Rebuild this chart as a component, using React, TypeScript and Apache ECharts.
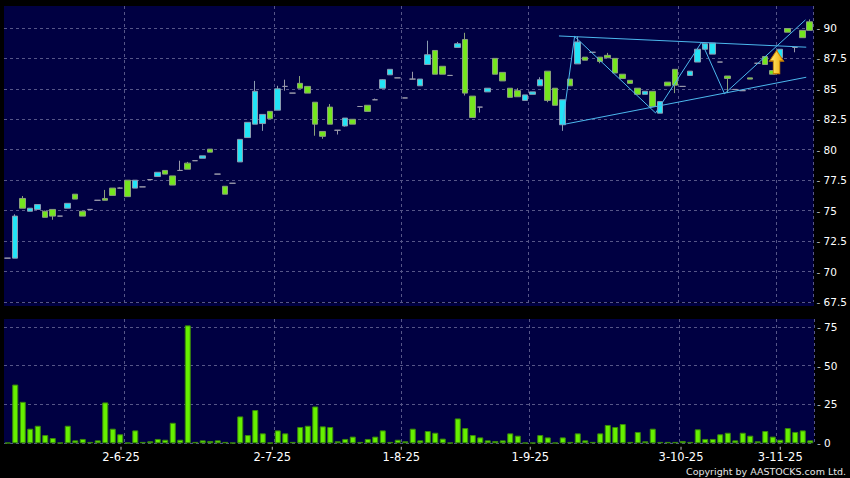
import React, { useEffect, useRef } from 'react';
import * as echarts from 'echarts';

// ---- Price data (one entry per trading day) ----
const opens = [
  71.1, 71.1, 76.0, 74.95, 75.1, 74.95, 75.1, 74.55, 75.2, 76.35,
  74.95, 75.1, 75.85, 76.0, 76.85, 76.85, 77.5, 76.85, 76.95, 77.55,
  77.8, 78.3, 77.85, 78.3, 78.9, 79.1, 79.3, 80.05, 78.0, 77.0,
  77.25, 79.0, 81.0, 82.1, 82.15, 83.15, 83.25, 85.2, 84.65, 85.45,
  85.2, 83.9, 81.5, 83.5, 81.6, 81.95, 82.5, 83.55, 83.65, 84.1,
  85.05, 86.15, 85.9, 84.25, 85.8, 85.25, 87.0, 88.15, 86.85, 86.1,
  88.4, 89.05, 84.4, 83.5, 84.75, 87.5, 86.35, 85.05, 84.85, 84.05,
  84.55, 85.25, 86.45, 85.05, 82.05, 85.8, 87.05, 87.6, 88.0, 87.6,
  87.75, 87.5, 86.2, 85.7, 85.05, 84.55, 84.8, 83.0, 85.55, 86.6,
  85.2, 86.1, 87.2, 88.25, 87.85, 87.2, 86.05, 84.95, 84.85, 85.9,
  87.1, 87.65, 86.5, 87.55, 89.95, 88.4, 89.8, 90.5,
];
const closes = [
  71.1, 74.55, 75.2, 75.2, 75.5, 74.45, 74.55, 74.55, 75.6, 75.95,
  74.55, 75.1, 75.85, 75.85, 76.25, 76.85, 76.15, 77.5, 76.95, 77.55,
  78.15, 78.0, 77.1, 78.3, 78.4, 79.1, 79.5, 79.8, 78.0, 76.35,
  77.25, 80.85, 82.25, 84.8, 82.9, 82.55, 85.0, 85.2, 84.65, 85.05,
  84.65, 82.1, 81.1, 82.1, 81.6, 82.6, 82.1, 83.55, 83.15, 84.1,
  85.75, 86.6, 85.9, 84.25, 85.8, 85.8, 87.8, 86.2, 86.2, 86.1,
  88.7, 84.65, 82.65, 83.5, 85.05, 86.2, 85.65, 84.3, 84.35, 84.5,
  84.75, 85.75, 84.05, 83.65, 84.1, 85.25, 88.85, 87.35, 88.0, 87.25,
  87.55, 86.3, 85.85, 85.45, 84.55, 84.8, 83.55, 83.95, 85.25, 85.3,
  85.2, 86.45, 88.25, 88.7, 88.75, 87.2, 85.85, 84.95, 84.85, 85.8,
  87.1, 87.0, 86.2, 88.25, 89.65, 88.4, 89.2, 89.8,
];
const lows = [
  71.1, 71.1, 75.2, 74.95, 75.1, 74.45, 74.25, 74.55, 75.2, 75.95,
  74.55, 75.1, 75.85, 75.85, 76.25, 76.85, 76.15, 76.85, 76.95, 77.55,
  77.8, 78.0, 77.1, 78.3, 78.4, 79.1, 79.3, 79.8, 78.0, 76.35,
  77.25, 79.0, 81.0, 82.1, 81.55, 82.55, 83.25, 84.85, 84.65, 85.05,
  84.65, 81.15, 80.9, 82.1, 81.25, 81.9, 82.1, 83.55, 83.15, 84.1,
  85.05, 86.15, 85.9, 84.25, 85.8, 85.25, 87.0, 86.2, 86.2, 86.1,
  88.4, 84.45, 82.65, 83.05, 84.75, 86.2, 85.65, 84.3, 84.35, 84.05,
  84.55, 85.25, 83.9, 83.65, 81.55, 85.25, 87.05, 87.35, 88.0, 87.1,
  87.55, 86.3, 85.85, 85.45, 84.55, 84.55, 83.55, 83.0, 85.25, 84.65,
  85.2, 86.1, 87.2, 88.25, 87.85, 87.2, 84.65, 84.95, 84.85, 85.8,
  87.1, 87.0, 86.2, 87.55, 89.65, 88.0, 89.2, 89.8,
];
const highs = [
  71.1, 74.7, 76.2, 75.2, 75.5, 75.0, 75.1, 74.55, 75.6, 76.35,
  74.95, 75.1, 75.85, 76.7, 76.85, 76.9, 77.5, 77.5, 76.95, 77.55,
  78.15, 78.3, 77.85, 79.1, 79.0, 79.1, 79.5, 80.05, 78.0, 77.0,
  77.25, 80.85, 82.25, 85.65, 82.9, 83.15, 85.25, 85.75, 84.65, 86.05,
  85.2, 83.9, 81.5, 83.75, 81.6, 82.6, 82.5, 83.55, 83.65, 84.2,
  85.8, 86.6, 85.9, 84.25, 86.4, 85.8, 88.95, 88.15, 86.85, 86.1,
  88.85, 89.6, 84.4, 83.5, 85.05, 87.5, 86.35, 85.05, 85.05, 84.5,
  84.75, 85.95, 86.45, 85.05, 84.1, 85.8, 89.3, 87.6, 88.0, 87.6,
  87.95, 87.5, 86.2, 85.7, 85.05, 84.8, 84.8, 83.95, 85.55, 86.6,
  85.2, 86.45, 88.25, 88.7, 88.75, 87.2, 86.05, 84.95, 84.85, 85.9,
  87.1, 87.65, 86.5, 88.25, 89.95, 88.4, 89.8, 90.7,
];

// ---- Volume ----
const volumes = [
  0.4, 37.8, 26.7, 9.4, 11.3, 5.3, 3.4, 0.4, 11.3, 1.9,
  2.8, 0.9, 1.9, 26.3, 9.4, 5.8, 0.4, 8.3, 0.9, 1.3,
  2.8, 2.3, 13.2, 2.3, 75.9, 0.9, 1.9, 1.5, 1.9, 0.9,
  0.4, 17.3, 5.3, 21.4, 6.4, 0.4, 8.3, 6.4, 0.9, 10.5,
  11.3, 23.7, 10.9, 10.5, 1.3, 2.8, 4.3, 0.9, 2.8, 4.3,
  8.3, 0.9, 2.3, 1.3, 9.4, 1.9, 7.9, 6.8, 3.0, 0.4,
  16.0, 9.8, 5.3, 3.8, 1.9, 1.5, 1.9, 6.4, 4.9, 0.4,
  0.4, 5.3, 3.8, 0.4, 3.8, 0.9, 6.4, 1.9, 0.9, 6.4,
  11.8, 10.5, 12.4, 0.9, 7.3, 1.3, 9.4, 0.9, 0.9, 0.9,
  1.5, 0.9, 9.0, 2.8, 2.8, 5.8, 6.8, 1.9, 6.8, 4.9,
  1.3, 7.9, 4.3, 2.3, 9.8, 7.3, 8.3, 1.9,
];

// ---- Axis labels ----
const monthStartIndex = [16, 36, 53, 70, 90, 103];
const dateTickPositions = [15.1, 35.27, 52.47, 69.67, 89.77, 103.0];
const dateTickLabels = ['2-6-25', '2-7-25', '1-8-25', '1-9-25', '3-10-25', '3-11-25'];
const priceTicks = [67.5, 70, 72.5, 75, 77.5, 80, 82.5, 85, 87.5, 90];
const volumeTicks = [0, 25, 50, 75];

// ---- Drawn trend lines (x in day index, y in price) ----
const upperTrend = [[73.54, 89.34], [106.53, 88.42]];
const lowerTrend = [[74.17, 82.08], [106.53, 85.95]];
const zigzag = [[74.0, 82.03], [75.63, 89.3], [86.43, 83.02], [92.57, 88.83], [95.63, 84.6], [106.43, 90.66]];
const arrowPoint = [102.57, 87.2];

const NAVY = '#000042';
const CYAN = '#22e4f6';
const GREEN = '#74e61e';
const DOJI = '#9a9aaa';
const TICK = '#bbbbbb';
const FONT = 'DejaVu Sans';

export default function App() {
  const ref = useRef<HTMLDivElement>(null);

  useEffect(() => {
    if (!ref.current) return;
    const chart = echarts.init(ref.current, undefined, { renderer: 'svg' });
    const categories = opens.map((_, i) => String(i));
    const candleData = opens.map((o, i) => {
      const item: any = { value: [o, closes[i], lows[i], highs[i]] };
      if (o === closes[i]) {
        item.itemStyle = { color: DOJI, color0: DOJI, borderColor: DOJI, borderColor0: DOJI };
      }
      return item;
    });
    const gridLine = { type: [3, 3], color: '#565688', width: 1 };
    const splitV = {
      show: true,
      interval: (idx: number) => monthStartIndex.indexOf(idx) >= 0,
      lineStyle: gridLine,
    };
    const labelFor = (v: number) => {
      for (let k = 0; k < dateTickPositions.length; k++) {
        if (Math.abs(dateTickPositions[k] - v) < 0.01) return '{t|}\n{l|' + dateTickLabels[k] + '}';
      }
      return '';
    };
    const yLabel = {
      color: '#ffffff', fontSize: 10.5, fontFamily: FONT, margin: 3,
      formatter: (v: number) => '{t|-} ' + v,
      rich: { t: { color: TICK, fontSize: 10.5, fontFamily: FONT } },
    };

    chart.setOption({
      animation: false,
      backgroundColor: '#000000',
      grid: [
        { left: 4, top: 6, width: 810, height: 296, show: true, backgroundColor: NAVY, borderWidth: 0 },
        { left: 4, top: 319, width: 810, height: 124.3, show: true, backgroundColor: NAVY, borderWidth: 0 },
      ],
      xAxis: [
        {
          type: 'category', gridIndex: 0, data: categories, boundaryGap: true,
          axisLine: { show: false }, axisTick: { show: false }, axisLabel: { show: false },
          splitLine: splitV,
        },
        { type: 'value', gridIndex: 0, min: -0.5, max: 107.5, show: false },
        {
          type: 'category', gridIndex: 1, data: categories, boundaryGap: true,
          axisLine: { show: false }, axisTick: { show: false }, axisLabel: { show: false },
          splitLine: splitV,
        },
        {
          type: 'value', gridIndex: 1, min: -0.5, max: 107.5, position: 'bottom',
          axisLine: { show: false }, splitLine: { show: false }, axisTick: { show: false },
          axisLabel: {
            customValues: dateTickPositions, formatter: (v: number) => labelFor(v),
            color: '#ffffff', fontSize: 11.5, fontFamily: FONT, margin: 3.4,
            rich: {
              t: { width: 1, height: 3, lineHeight: 3, backgroundColor: TICK },
              l: { color: '#ffffff', fontSize: 11.5, fontFamily: FONT, lineHeight: 15 },
            },
          },
        },
      ],
      yAxis: [
        {
          type: 'value', gridIndex: 0, position: 'right', min: 67.5, max: 91.8, interval: 2.5,
          axisLine: { show: false }, axisTick: { show: false },
          axisLabel: { ...yLabel, customValues: priceTicks },
          splitLine: { show: true, showMaxLine: false, lineStyle: gridLine },
        },
        {
          type: 'value', gridIndex: 1, position: 'right', min: 0, max: 80, interval: 25,
          axisLine: { show: false }, axisTick: { show: false },
          axisLabel: { ...yLabel, customValues: volumeTicks },
          splitLine: { show: true, showMaxLine: false, lineStyle: gridLine },
        },
      ],
      graphic: [
        { type: 'rect', shape: { x: 4, y: 302.5, width: 810, height: 3.5 }, style: { fill: NAVY }, silent: true },
        {
          type: 'text', right: 4, bottom: 2, silent: true,
          style: { text: 'Copyright by AASTOCKS.com Ltd.', fill: '#e6e6e6', font: '9.5px "DejaVu Sans"' },
        },
      ],
      series: [
        {
          type: 'candlestick', xAxisIndex: 0, yAxisIndex: 0, data: candleData, barWidth: 6,
          itemStyle: {
            color: CYAN, color0: GREEN, borderColor: '#8a9cb0', borderColor0: '#8aa07a',
            borderColorDoji: DOJI, borderWidth: 1,
          },
        },
        {
          type: 'bar', xAxisIndex: 2, yAxisIndex: 1, data: volumes, barWidth: 6,
          itemStyle: { color: '#66f000', borderColor: '#3a8a0a', borderWidth: 1 },
        },
        {
          type: 'line', xAxisIndex: 1, yAxisIndex: 0, data: upperTrend, symbol: 'none', silent: true,
          lineStyle: { color: '#4cb8ee', width: 1 },
        },
        {
          type: 'line', xAxisIndex: 1, yAxisIndex: 0, data: lowerTrend, symbol: 'none', silent: true,
          lineStyle: { color: '#4cb8ee', width: 1 },
        },
        {
          type: 'line', xAxisIndex: 1, yAxisIndex: 0, data: zigzag, symbol: 'none', silent: true,
          lineStyle: { color: '#4cb8ee', width: 1 },
        },
        {
          type: 'scatter', xAxisIndex: 1, yAxisIndex: 0, data: [arrowPoint], silent: true, z: 5,
          symbol: 'path://M7 0 L14 10 L10.3 10 L10.3 22 L3.7 22 L3.7 10 L0 10 Z',
          symbolSize: [14, 23],
          itemStyle: {
            color: new echarts.graphic.LinearGradient(0, 0, 1, 0, [
              { offset: 0, color: '#fff07a' },
              { offset: 1, color: '#f0a800' },
            ]),
            borderColor: '#c88000', borderWidth: 1, opacity: 1,
          },
        },
      ],
    });
    return () => chart.dispose();
  }, []);

  return (
    <div
      ref={ref}
      style={{ position: 'absolute', left: 0, top: 0, width: 850, height: 478, background: '#000' }}
    />
  );
}
